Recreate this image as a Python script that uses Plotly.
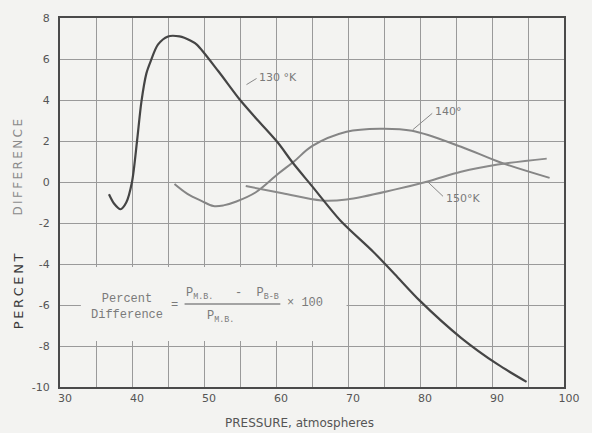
import plotly.graph_objects as go

# ---- data ----
p130 = [36.8, 37.5, 38.4, 39.2, 40.0, 40.7, 41.3, 42.0, 42.6, 43.6, 45.0, 46.6, 48.1, 49.0, 52.0, 54.9, 57.5, 60.3, 62.3, 65.0, 69.0, 73.5, 76.5, 80.0, 85.7, 90.8, 94.8]
d130 = [-0.6, -1.05, -1.33, -1.0, 0.0, 2.0, 3.9, 5.3, 5.9, 6.7, 7.1, 7.1, 6.9, 6.7, 5.4, 4.05, 3.0, 1.9, 0.95, -0.2, -1.9, -3.4, -4.5, -5.8, -7.6, -8.9, -9.75]

p140 = [45.9, 47.7, 49.7, 51.3, 52.7, 54.5, 57.2, 60.3, 62.5, 65.0, 69.8, 74.4, 78.9, 85.7, 91.2, 98.0]
d140 = [-0.1, -0.58, -0.93, -1.17, -1.14, -0.95, -0.5, 0.4, 1.0, 1.75, 2.45, 2.6, 2.5, 1.72, 0.95, 0.2]

p150 = [55.8, 60.9, 66.3, 69.8, 76.6, 81.2, 85.7, 90.8, 97.6]
d150 = [-0.2, -0.55, -0.9, -0.85, -0.36, 0.04, 0.5, 0.85, 1.14]

x_ticks = [30, 40, 50, 60, 70, 80, 90, 100]
x_labels = ["30", "40", "50", "60", "70", "80", "90", "100"]
y_ticks = [-10, -8, -6, -4, -2, 0, 2, 4, 6, 8]
y_labels = ["-10", "-8", "-6", "-4", "-2", "0", "2", "4", "6", "8"]

fig = go.Figure()
fig.add_trace(go.Scatter(x=p140, y=d140, mode="lines", line=dict(color="#858585", width=2, shape="spline", smoothing=1.0), hoverinfo="skip"))
fig.add_trace(go.Scatter(x=p150, y=d150, mode="lines", line=dict(color="#8a8a8a", width=2, shape="spline", smoothing=1.0), hoverinfo="skip"))
fig.add_trace(go.Scatter(x=p130, y=d130, mode="lines", line=dict(color="#454545", width=2.2, shape="spline", smoothing=0.8), hoverinfo="skip"))

gray = "#7a7a7a"
mono = "Liberation Mono"
shapes = [
    # white box behind the formula
    dict(type="rect", xref="x", yref="y", x0=32.9, x1=69.8, y0=-7.75, y1=-4.15,
         fillcolor="#f3f3f1", line=dict(width=0), layer="between"),
    # fraction bar
    dict(type="line", xref="x", yref="y", x0=47.3, x1=60.6, y0=-5.95, y1=-5.95,
         line=dict(color="#888", width=1.3)),
    # leaders
    dict(type="line", xref="x", yref="y", x0=55.9, y0=4.75, x1=57.3, y1=5.05, line=dict(color="#888", width=1)),
    dict(type="line", xref="x", yref="y", x0=79.0, y0=2.55, x1=81.7, y1=3.35, line=dict(color="#888", width=1)),
    dict(type="line", xref="x", yref="y", x0=81.1, y0=0.0, x1=83.2, y1=-0.7, line=dict(color="#888", width=1)),
]

ann = [
    dict(x=57.4, y=5.1, text="130 °K", showarrow=False, xanchor="left", yanchor="middle",
         font=dict(family="DejaVu Sans", size=11, color=gray)),
    dict(x=81.8, y=3.45, text="140°", showarrow=False, xanchor="left", yanchor="middle",
         font=dict(family="DejaVu Sans", size=11, color=gray)),
    dict(x=83.3, y=-0.8, text="150°K", showarrow=False, xanchor="left", yanchor="middle",
         font=dict(family="DejaVu Sans", size=11, color=gray)),
    dict(x=39.3, y=-6.1, text="Percent<br>Difference", showarrow=False, align="center",
         font=dict(family=mono, size=12, color=gray)),
    dict(x=45.9, y=-5.98, text="=", showarrow=False, font=dict(family=mono, size=12, color=gray)),
    dict(x=53.9, y=-5.45, text="P<sub>M.B.</sub>   -  P<sub>B-B</sub>", showarrow=False,
         font=dict(family=mono, size=12, color=gray)),
    dict(x=52.3, y=-6.6, text="P<sub>M.B.</sub>", showarrow=False,
         font=dict(family=mono, size=12, color=gray)),
    dict(x=64.0, y=-5.9, text="× 100", showarrow=False, font=dict(family=mono, size=12, color=gray)),
    # axis titles
    dict(xref="paper", yref="paper", x=-0.083, y=0.26, xanchor="center", yanchor="middle",
         text="P\u2009E\u2009R\u2009C\u2009E\u2009N\u2009T", textangle=-90,
         showarrow=False, font=dict(family="DejaVu Sans", size=13, color="#3a3a3a")),
    dict(xref="paper", yref="paper", x=-0.083, y=0.595, xanchor="center", yanchor="middle",
         text="D\u2009I\u2009F\u2009F\u2009E\u2009R\u2009E\u2009N\u2009C\u2009E", textangle=-90,
         showarrow=False, font=dict(family="DejaVu Sans", size=12, color="#8a8a8a")),
    dict(xref="paper", yref="paper", x=0.476, y=-0.098, xanchor="center", yanchor="middle",
         text="PRESSURE, atmospheres", showarrow=False,
         font=dict(family="DejaVu Sans", size=12, color="#555")),
]

axis_common = dict(showline=True, mirror=True, linecolor="#4a4a4a", linewidth=2,
                   showgrid=True, gridcolor="#9a9a9a", gridwidth=1.3, zeroline=False,
                   ticks="", tickfont=dict(family="DejaVu Sans", size=11, color="#555"))

fig.update_layout(
    width=592, height=433,
    margin=dict(l=60, r=17, t=18, b=46),
    paper_bgcolor="#f3f3f1", plot_bgcolor="#f3f3f1",
    showlegend=False,
    shapes=shapes, annotations=ann,
    xaxis=dict(range=[30, 100], tickmode="array", tickvals=x_ticks, ticktext=x_labels,
               ticklabelshift=5, minor=dict(dtick=5, showgrid=True, gridcolor="#9a9a9a", gridwidth=1.3),
               **axis_common),
    yaxis=dict(range=[-10, 8], tickmode="array", tickvals=y_ticks, ticktext=y_labels,
               ticklabelstandoff=6, **axis_common),
)

fig.write_html("out.html")
